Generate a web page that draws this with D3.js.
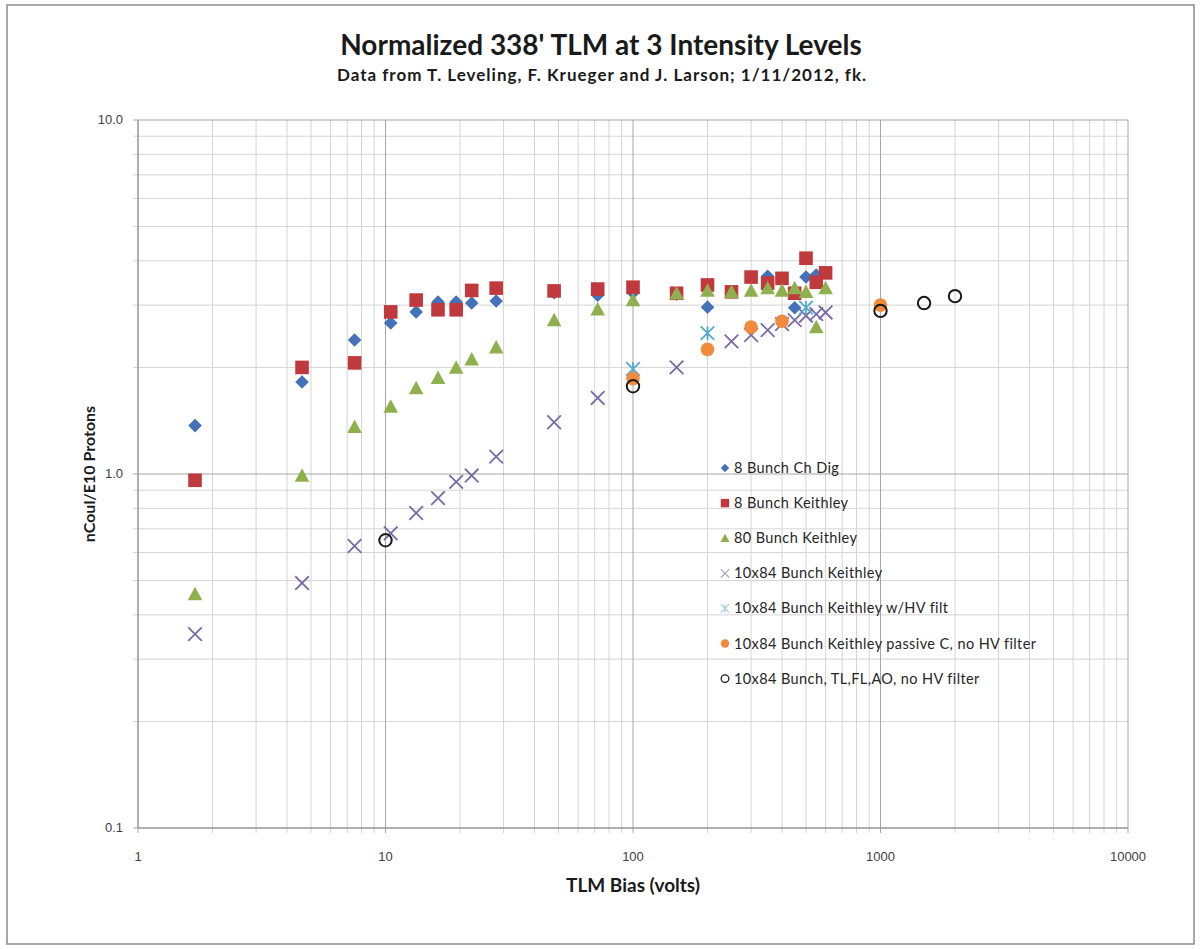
<!DOCTYPE html>
<html><head><meta charset="utf-8">
<script src="https://cdn.jsdelivr.net/npm/d3@7"></script>
<style>
body{margin:0;background:#fff;}
svg{display:block;}
</style></head>
<body>
<svg id="chart" width="1201" height="949"></svg>
<script>
// ---- data ----
const titleText = "Normalized 338' TLM at 3 Intensity Levels";
const subtitleText = "Data from T. Leveling, F. Krueger and J. Larson; 1/11/2012, fk.";
const xAxisTitle = "TLM Bias (volts)";
const yAxisTitle = "nCoul/E10 Protons";
const xTickValues = [1, 10, 100, 1000, 10000];
const xTickLabels = ["1", "10", "100", "1000", "10000"];
const yTickValues = [0.1, 1, 10];
const yTickLabels = ["0.1", "1.0", "10.0"];

const seriesNames = [
  "8 Bunch Ch Dig",
  "8 Bunch Keithley",
  "80 Bunch Keithley",
  "10x84 Bunch Keithley",
  "10x84 Bunch Keithley w/HV filt",
  "10x84 Bunch Keithley passive C, no HV filter",
  "10x84 Bunch, TL,FL,AO, no HV filter"
];

const chDigX = [1.7, 4.6, 7.5, 10.5, 13.3, 16.3, 19.3, 22.3, 28, 48, 72, 100, 150, 200, 350, 450, 500, 550];
const chDigY = [1.37, 1.82, 2.39, 2.67, 2.87, 3.06, 3.06, 3.04, 3.08, 3.25, 3.2, 3.25, 3.22, 2.96, 3.62, 2.95, 3.6, 3.65];

const k8X = [1.7, 4.6, 7.5, 10.5, 13.3, 16.3, 19.3, 22.3, 28, 48, 72, 100, 150, 200, 250, 300, 350, 400, 450, 500, 550, 600];
const k8Y = [0.96, 2.0, 2.06, 2.87, 3.1, 2.91, 2.91, 3.3, 3.35, 3.29, 3.33, 3.37, 3.24, 3.42, 3.27, 3.6, 3.46, 3.57, 3.24, 4.07, 3.48, 3.7];

const k80X = [1.7, 4.6, 7.5, 10.5, 13.3, 16.3, 19.3, 22.3, 28, 48, 72, 100, 150, 200, 250, 300, 350, 400, 450, 500, 550, 600];
const k80Y = [0.458, 0.99, 1.36, 1.55, 1.75, 1.87, 2.0, 2.11, 2.28, 2.72, 2.92, 3.1, 3.24, 3.3, 3.27, 3.3, 3.35, 3.3, 3.35, 3.27, 2.6, 3.35];

const k84X = [1.7, 4.6, 7.5, 10.5, 13.3, 16.3, 19.3, 22.3, 28, 48, 72, 150, 250, 300, 350, 400, 450, 500, 550, 600];
const k84Y = [0.353, 0.492, 0.626, 0.68, 0.776, 0.855, 0.95, 0.99, 1.12, 1.40, 1.64, 2.0, 2.37, 2.47, 2.55, 2.65, 2.72, 2.8, 2.83, 2.86];

const hvX = [100, 200, 500];
const hvY = [1.98, 2.5, 2.95];

const passX = [100, 200, 300, 400, 1000];
const passY = [1.86, 2.25, 2.6, 2.7, 3.0];

const tlX = [10, 100, 1000, 1500, 2000];
const tlY = [0.65, 1.77, 2.89, 3.04, 3.18];

const seriesX = [chDigX, k8X, k80X, k84X, hvX, passX, tlX];
const seriesY = [chDigY, k8Y, k80Y, k84Y, hvY, passY, tlY];
const seriesColors = ["#4472b8", "#c0393d", "#8fb04e", "#7a6aa8", "#55aacb", "#f08a3c", "#1a1a1a"];
const seriesShapes = ["diamond", "square", "triangle", "x", "star", "dot", "ring"];

// ---- layout ----
const svg = d3.select("#chart");
const L = 138, R = 1128, T = 120, B = 828;
const x = d3.scaleLog().domain([1, 10000]).range([L, R]);
const y = d3.scaleLog().domain([0.1, 10]).range([B, T]);

svg.append("rect").attr("x", 7).attr("y", 5).attr("width", 1187).attr("height", 939)
  .attr("fill", "#fff").attr("stroke", "#8c8c8c").attr("stroke-width", 1.5);

// minor values
const xMinor = [], yMinor = [];
for (let d = 1; d < 10000; d *= 10) for (let m = 2; m <= 9; m++) xMinor.push(d * m);
for (let d = 0.1; d < 9; d *= 10) for (let m = 2; m <= 9; m++) yMinor.push(+(d * m).toPrecision(3));

const grid = svg.append("g");
grid.selectAll(".xm").data(xMinor).join("line")
  .attr("x1", d => x(d)).attr("x2", d => x(d)).attr("y1", T).attr("y2", B + 5)
  .attr("stroke", "#d4d4d4").attr("stroke-width", 1);
grid.selectAll(".ym").data(yMinor).join("line")
  .attr("x1", L - 5).attr("x2", R).attr("y1", d => y(d)).attr("y2", d => y(d))
  .attr("stroke", "#d4d4d4").attr("stroke-width", 1);
grid.selectAll(".xM").data(xTickValues).join("line")
  .attr("x1", d => x(d)).attr("x2", d => x(d)).attr("y1", T).attr("y2", B + 5)
  .attr("stroke", "#a6a6a6").attr("stroke-width", 1);
grid.selectAll(".yM").data(yTickValues).join("line")
  .attr("x1", L - 5).attr("x2", R).attr("y1", d => y(d)).attr("y2", d => y(d))
  .attr("stroke", "#a6a6a6").attr("stroke-width", 1);
// axis lines
svg.append("line").attr("x1", L).attr("x2", L).attr("y1", T).attr("y2", B).attr("stroke", "#8c8c8c");
svg.append("line").attr("x1", L).attr("x2", R).attr("y1", B).attr("y2", B).attr("stroke", "#8c8c8c");

// tick labels
const tickFont = "'Liberation Sans', Arial, sans-serif";
svg.append("g").selectAll("text").data(xTickValues).join("text")
  .attr("x", d => x(d)).attr("y", B + 33).attr("text-anchor", "middle")
  .attr("font-family", tickFont).attr("font-size", 13).attr("fill", "#404040")
  .text((d, i) => xTickLabels[i]);
svg.append("g").selectAll("text").data(yTickValues).join("text")
  .attr("x", L - 15).attr("y", d => y(d) + 4).attr("text-anchor", "end")
  .attr("font-family", tickFont).attr("font-size", 13).attr("fill", "#404040")
  .text((d, i) => yTickLabels[i]);

// titles
const tFont = "Lato, 'Open Sans', sans-serif";
svg.append("text").attr("x", 601).attr("y", 55).attr("text-anchor", "middle")
  .attr("font-family", tFont).attr("font-weight", "bold").attr("font-size", 28).attr("fill", "#1a1a1a")
  .text(titleText);
svg.append("text").attr("x", 602).attr("y", 81).attr("text-anchor", "middle")
  .attr("font-family", tFont).attr("font-weight", "bold").attr("font-size", 17)
  .attr("letter-spacing", 1.0).attr("fill", "#1a1a1a")
  .text(subtitleText);
svg.append("text").attr("x", 633).attr("y", 892).attr("text-anchor", "middle")
  .attr("font-family", tFont).attr("font-weight", "bold").attr("font-size", 19).attr("fill", "#1a1a1a")
  .text(xAxisTitle);
svg.append("text").attr("transform", "translate(95,474) rotate(-90)").attr("text-anchor", "middle")
  .attr("font-family", tFont).attr("font-weight", "bold").attr("font-size", 16).attr("fill", "#1a1a1a")
  .text(yAxisTitle);

// markers
function drawMarker(g, shape, color, cx, cy, s) {
  s = s || 1;
  if (shape === "diamond") {
    const h = 6.8 * s;
    g.append("path").attr("d", `M${cx},${cy - h}L${cx + h},${cy}L${cx},${cy + h}L${cx - h},${cy}Z`).attr("fill", color);
  } else if (shape === "square") {
    const h = 6.8 * s;
    g.append("rect").attr("x", cx - h).attr("y", cy - h).attr("width", 2 * h).attr("height", 2 * h).attr("fill", color);
  } else if (shape === "triangle") {
    const h = 7.3 * s;
    g.append("path").attr("d", `M${cx},${cy - h}L${cx + h},${cy + h * 0.85}L${cx - h},${cy + h * 0.85}Z`).attr("fill", color);
  } else if (shape === "x") {
    const h = 6.8 * s;
    g.append("path").attr("d", `M${cx - h},${cy - h}L${cx + h},${cy + h}M${cx - h},${cy + h}L${cx + h},${cy - h}`)
      .attr("stroke", color).attr("stroke-width", 1.8 * s).attr("fill", "none");
  } else if (shape === "star") {
    const h = 6.8 * s;
    g.append("path").attr("d", `M${cx - h},${cy - h}L${cx + h},${cy + h}M${cx - h},${cy + h}L${cx + h},${cy - h}M${cx},${cy - h}L${cx},${cy + h}`)
      .attr("stroke", color).attr("stroke-width", 1.8 * s).attr("fill", "none");
  } else if (shape === "dot") {
    g.append("circle").attr("cx", cx).attr("cy", cy).attr("r", 6.8 * s).attr("fill", color);
  } else if (shape === "ring") {
    g.append("circle").attr("cx", cx).attr("cy", cy).attr("r", 6.2 * s).attr("fill", "none")
      .attr("stroke", color).attr("stroke-width", 2 * s);
  }
}

const pts = svg.append("g");
seriesX.forEach((xs, si) => {
  const g = pts.append("g");
  xs.forEach((xv, j) => drawMarker(g, seriesShapes[si], seriesColors[si], x(xv), y(seriesY[si][j])));
});

// legend
const lg = svg.append("g");
seriesNames.forEach((name, i) => {
  const cy = 468 + i * 35.1;
  const col = i === 3 ? "#a9a2c0" : (i === 4 ? "#9fd0e0" : seriesColors[i]);
  drawMarker(lg, seriesShapes[i], col, 725, cy, 0.62);
  lg.append("text").attr("x", 734).attr("y", cy + 5)
    .attr("font-family", tFont).attr("font-size", 14.5).attr("letter-spacing", 0.4)
    .attr("fill", "#262626").text(name);
});
</script>
</body></html>
